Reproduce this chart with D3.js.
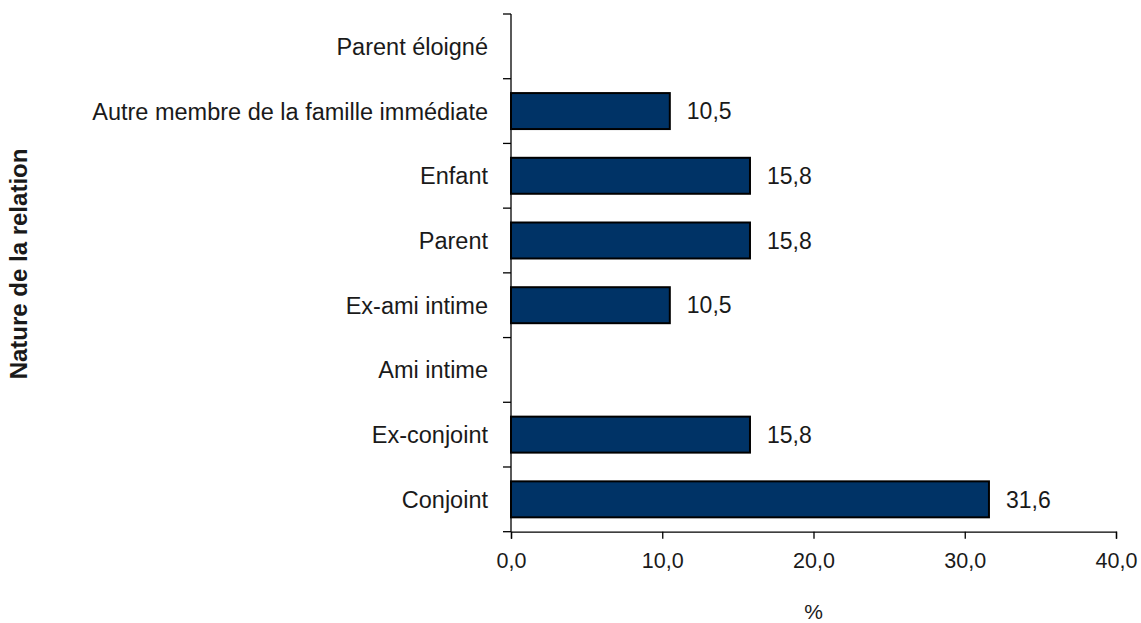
<!DOCTYPE html>
<html>
<head>
<meta charset="utf-8">
<script src="https://cdn.jsdelivr.net/npm/d3@7"></script>
<style>
  html, body { margin: 0; padding: 0; background: #fff; }
  text { font-family: "Liberation Sans", Arial, sans-serif; fill: #1a1a1a; }
</style>
</head>
<body>
<svg id="chart" width="1141" height="623"></svg>
<script>
// Relationship categories, top to bottom
const categories = [
  "Parent éloigné",
  "Autre membre de la famille immédiate",
  "Enfant",
  "Parent",
  "Ex-ami intime",
  "Ami intime",
  "Ex-conjoint",
  "Conjoint"
];
// Share of cases (%)
const values = [0, 10.5, 15.8, 15.8, 10.5, 0, 15.8, 31.6];
const xTicks = [0, 10, 20, 30, 40];

const svg = d3.select("#chart");
const plotLeft = 511, plotRight = 1116, plotTop = 14, plotBottom = 531.7;

const x = d3.scaleLinear().domain([0, 40]).range([plotLeft, plotRight]);
const y = d3.scaleBand().domain(categories).range([plotTop, plotBottom]).paddingInner(0.444).paddingOuter(0.222);
const fmt = v => d3.format(".1f")(v).replace(".", ",");

const data = categories.map((c, i) => ({ cat: c, val: values[i] }));

// Bars (zero values draw nothing)
svg.append("g").selectAll("rect")
  .data(data.filter(d => d.val > 0))
  .join("rect")
  .attr("x", x(0))
  .attr("y", d => y(d.cat))
  .attr("width", d => x(d.val) - x(0))
  .attr("height", y.bandwidth())
  .attr("fill", "#003366")
  .attr("stroke", "#000")
  .attr("stroke-width", 2);

// Value labels
svg.append("g").selectAll("text")
  .data(data.filter(d => d.val > 0))
  .join("text")
  .attr("x", d => x(d.val) + 17)
  .attr("y", d => y(d.cat) + y.bandwidth() / 2)
  .attr("dy", "0.36em")
  .attr("font-size", 23)
  .text(d => fmt(d.val));

// Category boundaries for y ticks
const step = (plotBottom - plotTop) / categories.length;
const yAxis = svg.append("g");
yAxis.append("line")
  .attr("x1", plotLeft).attr("x2", plotLeft)
  .attr("y1", plotTop).attr("y2", plotBottom)
  .attr("stroke", "#000").attr("stroke-width", 1.3);
yAxis.selectAll("line.tick")
  .data(d3.range(categories.length + 1))
  .join("line")
  .attr("class", "tick")
  .attr("x1", plotLeft - 8).attr("x2", plotLeft)
  .attr("y1", i => plotTop + i * step).attr("y2", i => plotTop + i * step)
  .attr("stroke", "#000").attr("stroke-width", 1.3);
yAxis.selectAll("text")
  .data(categories)
  .join("text")
  .attr("x", plotLeft - 23)
  .attr("y", (c, i) => plotTop + (i + 0.5) * step)
  .attr("dy", "0.36em")
  .attr("text-anchor", "end")
  .attr("font-size", 23.5)
  .text(c => c);

// X axis
const xAxis = svg.append("g").attr("transform", `translate(0,${plotBottom})`)
  .call(d3.axisBottom(x).tickValues(xTicks).tickSize(7).tickPadding(14).tickFormat(fmt));
xAxis.select(".domain").attr("stroke", "#000").attr("stroke-width", 1.3);
xAxis.selectAll(".tick line").attr("stroke", "#000").attr("stroke-width", 1.3);
xAxis.selectAll(".tick text").attr("font-size", 21.5).attr("fill", "#1a1a1a")
  .attr("font-family", "'Liberation Sans', Arial, sans-serif");

// Axis titles
svg.append("text")
  .attr("x", (plotLeft + plotRight) / 2)
  .attr("y", 619)
  .attr("text-anchor", "middle")
  .attr("font-size", 21)
  .text("%");

svg.append("text")
  .attr("transform", "translate(27,264) rotate(-90)")
  .attr("text-anchor", "middle")
  .attr("font-size", 24)
  .attr("font-weight", "bold")
  .text("Nature de la relation");
</script>
</body>
</html>
